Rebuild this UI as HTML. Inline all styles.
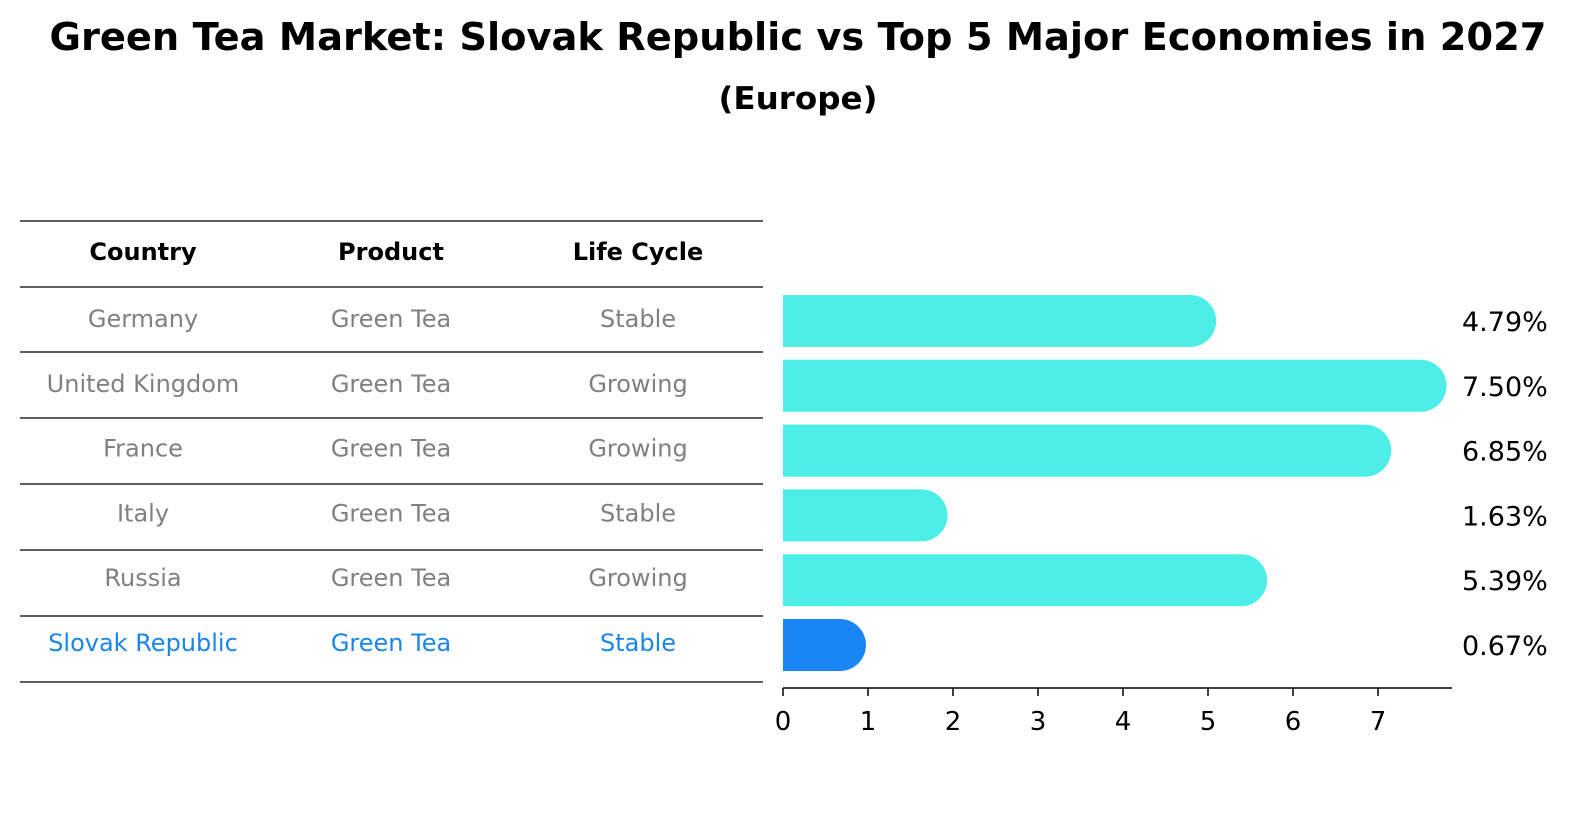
<!DOCTYPE html>
<html><head><meta charset="utf-8"><style>
body{margin:0;width:1586px;height:823px;background:#fefefe;font-family:"Liberation Sans","DejaVu Sans",sans-serif;overflow:hidden}
svg{display:block}
</style></head><body>
<svg width="1586" height="823" id="c">
<text x="798" y="50" text-anchor="middle" font-size="38" font-weight="bold" textLength="1497" lengthAdjust="spacingAndGlyphs" font-family="DejaVu Sans, sans-serif">Green Tea Market: Slovak Republic vs Top 5 Major Economies in 2027</text>
<text x="798" y="109" text-anchor="middle" font-size="31" font-weight="bold" textLength="159" lengthAdjust="spacingAndGlyphs" font-family="DejaVu Sans, sans-serif">(Europe)</text>
<g id="tbl"></g>
<g id="bars"></g>
</svg>
<script>
const countries=["Germany","United Kingdom","France","Italy","Russia","Slovak Republic"];
const products=["Green Tea","Green Tea","Green Tea","Green Tea","Green Tea","Green Tea"];
const lifecycle=["Stable","Growing","Growing","Stable","Growing","Stable"];
const values=[4.79,7.50,6.85,1.63,5.39,0.67];
const ticks=[0,1,2,3,4,5,6,7];
const NS="http://www.w3.org/2000/svg";
function mk(t,a,p,txt){const e=document.createElementNS(NS,t);for(const k in a)e.setAttribute(k,a[k]);if(txt!==undefined)e.textContent=txt;p.appendChild(e);return e;}
const tbl=document.getElementById('tbl'),bars=document.getElementById('bars');
const font="DejaVu Sans, sans-serif";
const lineYs=[221,287,352,418,484,550,616,682];
lineYs.forEach(y=>{const l=mk('line',{x1:20,x2:763,y1:y,y2:y,stroke:'#000','stroke-width':1.2},tbl);

});
const colX=[143,391,638];
["Country","Product","Life Cycle"].forEach((h,i)=>{const t=mk('text',{x:colX[i],y:260,'text-anchor':'middle','font-size':24,'font-weight':'bold','font-family':font},tbl,h);

});
const xs=v=>783+85*v;
const rowY=i=>321+64.8*i;
countries.forEach((c,i)=>{
 const last=i===countries.length-1;const col=last?'#1a86ea':'#808080';
 [c,products[i],lifecycle[i]].forEach((s,j)=>{const t=mk('text',{x:colX[j],y:rowY(i)+6,'text-anchor':'middle','font-size':24,fill:col,'font-family':font},tbl,s);
 
 });
 const y=rowY(i),h=52,x1=xs(values[i]);
 const p=mk('path',{d:`M783 ${y-h/2} H${x1} A26 26 0 0 1 ${x1} ${y+h/2} H783 Z`,fill:last?'#1a86f5':'#4deee8'},bars);
 
 
 const v=mk('text',{x:1462,y:y+10,'font-size':27,'font-family':font},bars,values[i].toFixed(2)+'%');
 
 
});
const ax=mk('line',{x1:783,x2:1452,y1:688,y2:688,stroke:'#000','stroke-width':1.5},bars);


ticks.forEach(t=>{const l=mk('line',{x1:xs(t),x2:xs(t),y1:688,y2:696,stroke:'#000','stroke-width':1.5},bars);


const tx=mk('text',{x:xs(t),y:730,'text-anchor':'middle','font-size':26,'font-family':font},bars,String(t));

});
</script>
</body></html>
